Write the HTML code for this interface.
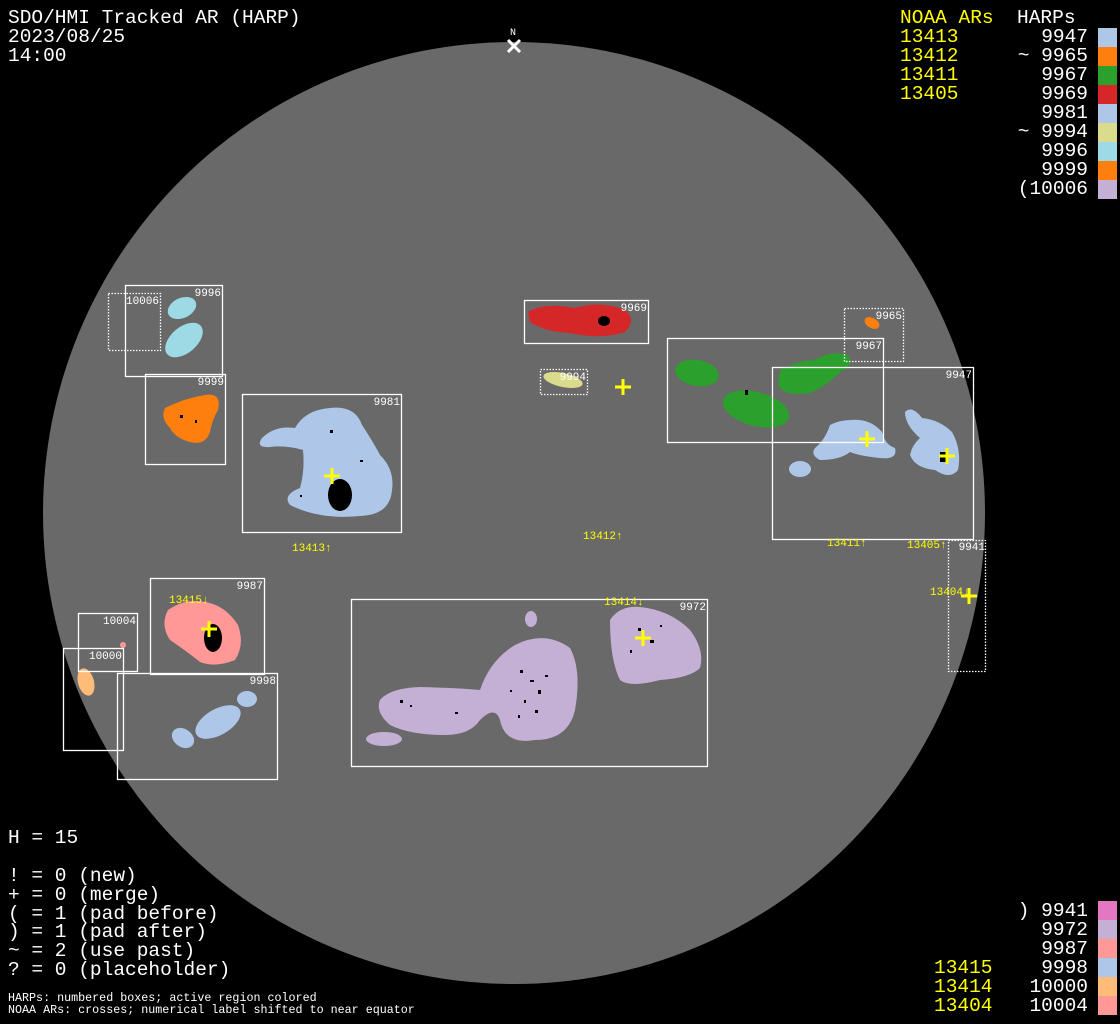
<!DOCTYPE html>
<html><head><meta charset="utf-8"><style>
body{margin:0;background:#000;width:1120px;height:1024px;overflow:hidden;position:relative;font-family:"Liberation Mono","DejaVu Sans Mono",monospace;}
.t{position:absolute;font-size:19.5px;line-height:19px;white-space:pre;color:#fff;}
.y{color:#ff0;}
.s{position:absolute;font-size:11.7px;line-height:12px;white-space:pre;color:#fff;}
.sw{position:absolute;left:1098px;width:19px;height:19px;}
svg{position:absolute;left:0;top:0;}
</style></head><body>
<svg width="1120" height="1024" font-family="Liberation Mono, monospace">
<circle cx="514" cy="513" r="471" fill="#696969"/>
<text x="513" y="35" fill="#fff" font-size="10" text-anchor="middle">N</text>
<path d="M508 40 L520 52 M520 40 L508 52" stroke="#fff" stroke-width="3"/>
<ellipse cx="182" cy="308" rx="15" ry="10" fill="#9edae5" transform="rotate(-25 182 308)"/>
<ellipse cx="184" cy="340" rx="22" ry="13" fill="#9edae5" transform="rotate(-40 184 340)"/>
<path d="M165 408 Q185 398 205 395 Q222 392 218 410 Q212 420 210 432 Q205 446 190 442 Q175 438 170 428 Q160 418 165 408Z" fill="#ff7f0e"/>
<path d="M262 438 Q275 425 295 428 Q305 410 330 408 Q355 405 362 425 Q372 440 380 455 Q395 470 392 490 Q390 515 360 516 Q320 520 290 505 Q282 495 300 488 Q305 470 303 450 Q285 445 270 447 Q255 448 262 438Z" fill="#aec7e8"/>
<ellipse cx="340" cy="495" rx="12" ry="16" fill="#000"/>
<path d="M528 312 Q545 302 575 308 Q600 300 625 310 Q637 320 625 332 Q600 340 570 333 Q545 332 530 322Z" fill="#d62728"/>
<ellipse cx="604" cy="321" rx="6" ry="5" fill="#000"/>
<ellipse cx="563" cy="380" rx="20" ry="7" fill="#dbdb8d" transform="rotate(12 563 380)"/>
<ellipse cx="872" cy="323" rx="8" ry="5" fill="#ff7f0e" transform="rotate(30 872 323)"/>
<ellipse cx="697" cy="373" rx="22" ry="13" fill="#2ca02c" transform="rotate(10 697 373)"/>
<ellipse cx="756" cy="409" rx="34" ry="17" fill="#2ca02c" transform="rotate(15 756 409)"/>
<path d="M780 370 Q800 360 815 360 Q830 350 848 355 Q855 365 840 372 Q828 385 810 393 Q785 397 778 385Z" fill="#2ca02c"/>
<path d="M830 425 Q840 420 850 420 Q870 418 882 432 Q885 445 895 448 Q898 460 880 458 Q860 456 850 452 Q840 460 820 460 Q810 455 815 448 Q825 440 830 425Z" fill="#aec7e8"/>
<ellipse cx="800" cy="469" rx="11" ry="8" fill="#aec7e8"/>
<path d="M905 412 Q912 405 922 418 Q940 420 952 432 Q962 450 958 470 Q950 480 935 470 Q915 468 910 455 Q912 445 920 438 Q905 425 905 412Z" fill="#aec7e8"/>
<path d="M168 610 Q185 598 205 602 Q225 605 238 625 Q245 645 235 660 Q215 668 200 662 Q185 650 170 640 Q160 625 168 610Z" fill="#ff9896"/>
<ellipse cx="213" cy="638" rx="9" ry="14" fill="#000"/>
<ellipse cx="123" cy="645" rx="3" ry="3" fill="#ff9896"/>
<ellipse cx="86" cy="682" rx="8" ry="14" fill="#ffbb78" transform="rotate(-15 86 682)"/>
<ellipse cx="247" cy="699" rx="10" ry="8" fill="#aec7e8"/>
<ellipse cx="218" cy="722" rx="25" ry="13" fill="#aec7e8" transform="rotate(-30 218 722)"/>
<ellipse cx="183" cy="738" rx="12" ry="9" fill="#aec7e8" transform="rotate(35 183 738)"/>
<path d="M380 700 Q390 688 420 687 Q460 688 480 690 Q490 660 515 645 Q545 630 570 648 Q582 670 575 710 Q568 740 535 740 Q505 745 500 720 Q495 705 480 720 Q470 735 445 735 Q410 735 390 725 Q375 712 380 700Z" fill="#c5b0d5"/>
<ellipse cx="384" cy="739" rx="18" ry="7" fill="#c5b0d5"/>
<ellipse cx="531" cy="619" rx="6" ry="8" fill="#c5b0d5"/>
<path d="M610 620 Q620 605 640 607 Q670 610 690 630 Q705 650 700 668 Q690 678 660 680 Q630 688 620 680 Q610 660 610 620Z" fill="#c5b0d5"/>
<g fill="#000">
<rect x="520" y="670" width="3" height="3"/><rect x="530" y="680" width="4" height="2"/><rect x="538" y="690" width="3" height="4"/><rect x="524" y="700" width="2" height="3"/><rect x="545" y="675" width="3" height="2"/><rect x="510" y="690" width="2" height="2"/><rect x="535" y="710" width="3" height="3"/><rect x="518" y="715" width="2" height="3"/>
<rect x="400" y="700" width="3" height="3"/><rect x="410" y="705" width="2" height="2"/><rect x="455" y="712" width="3" height="2"/>
<rect x="638" y="628" width="3" height="3"/><rect x="650" y="640" width="4" height="3"/><rect x="630" y="650" width="2" height="3"/><rect x="660" y="625" width="2" height="2"/>
<rect x="745" y="390" width="3" height="5"/><rect x="940" y="452" width="6" height="10"/><rect x="180" y="415" width="3" height="3"/><rect x="195" y="420" width="2" height="3"/>
<rect x="330" y="430" width="3" height="3"/><rect x="360" y="460" width="3" height="2"/><rect x="300" y="495" width="2" height="2"/>
</g>
<g fill="none" stroke="#fff" stroke-width="1.3">
<rect x="108.5" y="293.5" width="52" height="57" stroke-dasharray="1.5 1.5"/>
<rect x="125.5" y="285.5" width="97" height="91"/>
<rect x="145.5" y="374.5" width="80" height="90"/>
<rect x="242.5" y="394.5" width="159" height="138"/>
<rect x="524.5" y="300.5" width="124" height="43"/>
<rect x="540.5" y="369.5" width="47" height="25" stroke-dasharray="1.5 1.5"/>
<rect x="844.5" y="308.5" width="59" height="53" stroke-dasharray="1.5 1.5"/>
<rect x="667.5" y="338.5" width="216" height="104"/>
<rect x="772.5" y="367.5" width="201" height="172"/>
<rect x="948.5" y="540.5" width="37" height="131" stroke-dasharray="1.5 1.5"/>
<rect x="150.5" y="578.5" width="114" height="96"/>
<rect x="78.5" y="613.5" width="59" height="58"/>
<rect x="63.5" y="648.5" width="60" height="102"/>
<rect x="117.5" y="673.5" width="160" height="106"/>
<rect x="351.5" y="599.5" width="356" height="167"/>
</g>
<g fill="#fff" font-size="11" text-anchor="end">
<text x="159" y="304">10006</text><text x="221" y="296">9996</text><text x="224" y="385">9999</text>
<text x="400" y="405">9981</text><text x="647" y="311">9969</text><text x="586" y="380">9994</text>
<text x="902" y="319">9965</text><text x="882" y="349">9967</text><text x="972" y="378">9947</text>
<text x="985" y="550">9941</text><text x="263" y="589">9987</text><text x="136" y="624">10004</text>
<text x="122" y="659">10000</text><text x="276" y="684">9998</text><text x="706" y="610">9972</text>
</g>
<g stroke="#ff0" stroke-width="3">
<path d="M615 387h16M623 379v16"/><path d="M324 476h16M332 468v16"/><path d="M859 439h16M867 431v16"/>
<path d="M939 456h16M947 448v16"/><path d="M961 596h16M969 588v16"/><path d="M201 629h16M209 621v16"/><path d="M635 638h16M643 630v16"/>
</g>
<g fill="#ff0" font-size="11">
<text x="292" y="551">13413↑</text><text x="583" y="539">13412↑</text><text x="827" y="546">13411↑</text>
<text x="907" y="548">13405↑</text><text x="930" y="595">13404↓</text><text x="169" y="603">13415↓</text><text x="604" y="605">13414↓</text>
</g>
</svg>
<div class="t" style="left:8px;top:9px">SDO/HMI Tracked AR (HARP)
2023/08/25
14:00</div>
<div class="t" style="left:900px;top:9px"><span class="y">NOAA ARs</span>  HARPs</div>
<div class="t y" style="left:900px;top:28px">13413
13412
13411
13405</div>
<div class="t" style="right:32px;top:28px;text-align:right">9947
~ 9965
9967
9969
9981
~ 9994
9996
9999
(10006</div>
<div class="sw" style="top:28px;background:#aec7e8"></div>
<div class="sw" style="top:47px;background:#ff7f0e"></div>
<div class="sw" style="top:66px;background:#2ca02c"></div>
<div class="sw" style="top:85px;background:#d62728"></div>
<div class="sw" style="top:104px;background:#aec7e8"></div>
<div class="sw" style="top:123px;background:#dbdb8d"></div>
<div class="sw" style="top:142px;background:#9edae5"></div>
<div class="sw" style="top:161px;background:#ff7f0e"></div>
<div class="sw" style="top:180px;background:#c5b0d5"></div>
<div class="t" style="left:8px;top:829px">H = 15</div>
<div class="t" style="left:8px;top:867px;line-height:18.8px">! = 0 (new)
+ = 0 (merge)
( = 1 (pad before)
) = 1 (pad after)
~ = 2 (use past)
? = 0 (placeholder)</div>
<div class="s" style="left:8px;top:992px">HARPs: numbered boxes; active region colored
NOAA ARs: crosses; numerical label shifted to near equator</div>
<div class="t" style="right:32px;top:902px;text-align:right">) 9941
9972
9987
9998
10000
10004</div>
<div class="t y" style="left:934px;top:959px">13415
13414
13404</div>
<div class="sw" style="top:901px;background:#e377c2"></div>
<div class="sw" style="top:920px;background:#c5b0d5"></div>
<div class="sw" style="top:939px;background:#ff9896"></div>
<div class="sw" style="top:958px;background:#aec7e8"></div>
<div class="sw" style="top:977px;background:#ffbb78"></div>
<div class="sw" style="top:996px;background:#ff9896"></div>
</body></html>
